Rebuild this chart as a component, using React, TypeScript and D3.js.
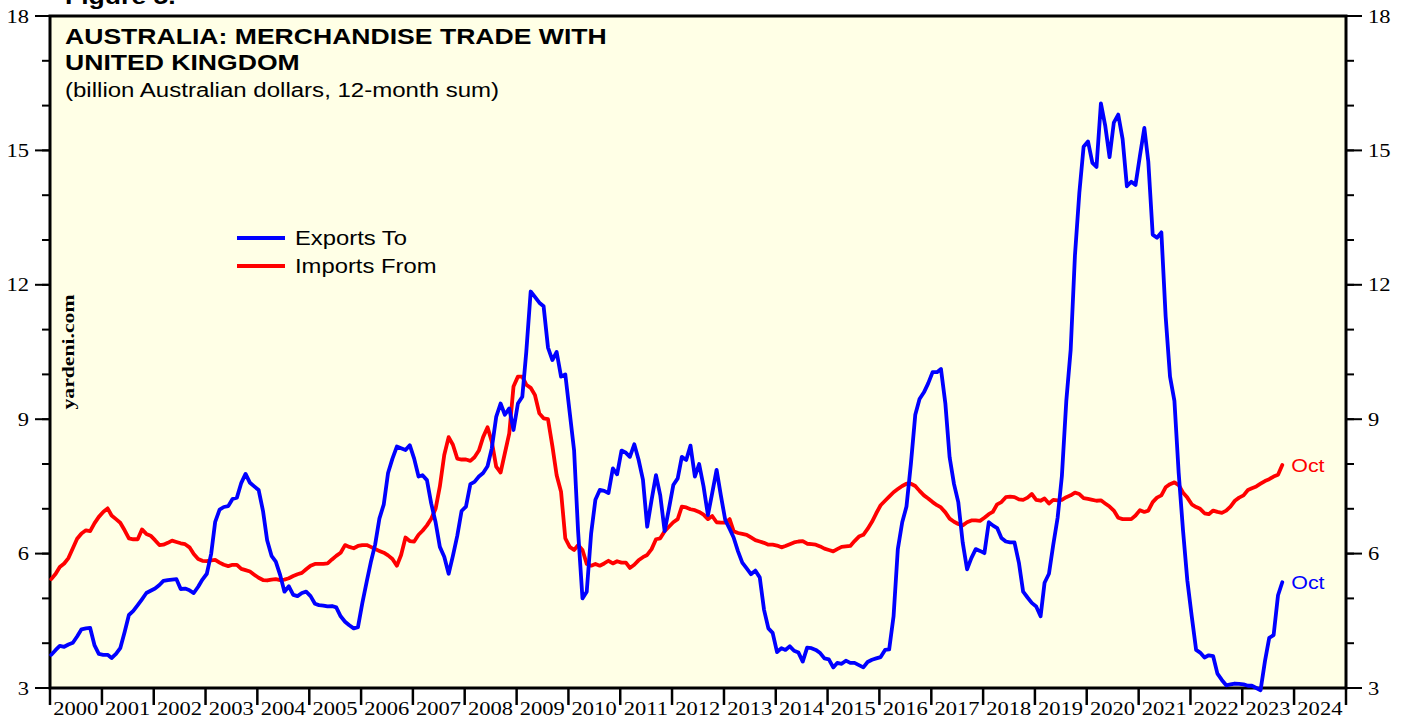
import React from 'react';
import * as d3 from 'd3';

// monthly, 12-month sum, billion A$, Jan 2000 .. Oct 2023
const startYear = 2000;

const exportsTo = [
  3.74, 3.85, 3.94, 3.92, 3.97, 4.01, 4.15, 4.31, 4.33, 4.34, 3.95, 3.76, // 2000
  3.74, 3.74, 3.67, 3.76, 3.89, 4.25, 4.63, 4.72, 4.85, 4.98, 5.12, 5.17, // 2001
  5.22, 5.3, 5.39, 5.41, 5.42, 5.43, 5.21, 5.22, 5.18, 5.12, 5.26, 5.42, // 2002
  5.55, 6.0, 6.71, 6.98, 7.04, 7.06, 7.22, 7.25, 7.58, 7.78, 7.58, 7.5, // 2003
  7.42, 6.95, 6.3, 5.95, 5.82, 5.52, 5.15, 5.27, 5.08, 5.05, 5.12, 5.15, // 2004
  5.05, 4.88, 4.85, 4.84, 4.82, 4.83, 4.8, 4.6, 4.48, 4.4, 4.33, 4.36, // 2005
  4.9, 5.38, 5.8, 6.2, 6.78, 7.1, 7.8, 8.12, 8.39, 8.35, 8.31, 8.42, // 2006
  8.12, 7.72, 7.75, 7.64, 7.12, 6.7, 6.15, 5.93, 5.55, 5.95, 6.4, 6.95, // 2007
  7.05, 7.55, 7.6, 7.72, 7.8, 7.95, 8.35, 9.05, 9.35, 9.1, 9.24, 8.76, // 2008
  9.35, 9.5, 10.5, 11.85, 11.73, 11.6, 11.52, 10.6, 10.32, 10.5, 9.95, 10.0, // 2009
  9.15, 8.3, 6.5, 5.0, 5.15, 6.45, 7.2, 7.42, 7.4, 7.35, 7.9, 7.77, // 2010
  8.3, 8.25, 8.16, 8.44, 8.1, 7.65, 6.6, 7.2, 7.75, 7.3, 6.5, 7.0, // 2011
  7.53, 7.68, 8.16, 8.09, 8.41, 7.72, 8.0, 7.5, 6.86, 7.35, 7.87, 7.3, // 2012
  6.75, 6.55, 6.36, 6.05, 5.8, 5.67, 5.54, 5.62, 5.47, 4.75, 4.33, 4.23, // 2013
  3.8, 3.89, 3.85, 3.93, 3.83, 3.79, 3.59, 3.9, 3.89, 3.85, 3.78, 3.66, // 2014
  3.64, 3.46, 3.56, 3.54, 3.61, 3.56, 3.56, 3.51, 3.46, 3.58, 3.63, 3.66, // 2015
  3.69, 3.85, 3.86, 4.6, 6.1, 6.7, 7.05, 8.0, 9.1, 9.45, 9.6, 9.8, // 2016
  10.05, 10.05, 10.12, 9.35, 8.15, 7.55, 7.15, 6.25, 5.65, 5.9, 6.1, 6.06, // 2017
  6.01, 6.7, 6.63, 6.57, 6.35, 6.27, 6.25, 6.25, 5.8, 5.15, 5.02, 4.9, // 2018
  4.82, 4.6, 5.35, 5.55, 6.19, 6.8, 7.73, 9.4, 10.55, 12.65, 14.05, 15.08, // 2019
  15.2, 14.72, 14.63, 16.05, 15.56, 14.85, 15.62, 15.8, 15.25, 14.2, 14.3, 14.23, // 2020
  14.88, 15.5, 14.75, 13.12, 13.05, 13.17, 11.3, 9.95, 9.41, 7.8, 6.5, 5.4, // 2021
  4.6, 3.85, 3.79, 3.68, 3.73, 3.71, 3.32, 3.18, 3.06, 3.08, 3.1, 3.09, // 2022
  3.08, 3.05, 3.05, 3.0, 2.95, 3.6, 4.12, 4.18, 5.07, 5.36, // 2023
];

const importsFrom = [
  5.43, 5.55, 5.7, 5.78, 5.9, 6.12, 6.33, 6.45, 6.52, 6.5, 6.68, 6.82, // 2000
  6.93, 7.01, 6.85, 6.77, 6.69, 6.52, 6.34, 6.32, 6.32, 6.54, 6.44, 6.4, // 2001
  6.3, 6.19, 6.2, 6.24, 6.29, 6.26, 6.23, 6.21, 6.14, 5.99, 5.88, 5.84, // 2002
  5.83, 5.85, 5.86, 5.8, 5.75, 5.72, 5.75, 5.75, 5.66, 5.63, 5.6, 5.53, // 2003
  5.46, 5.41, 5.4, 5.42, 5.43, 5.41, 5.42, 5.45, 5.5, 5.54, 5.57, 5.65, // 2004
  5.73, 5.77, 5.77, 5.77, 5.78, 5.87, 5.95, 6.02, 6.19, 6.15, 6.12, 6.17, // 2005
  6.19, 6.19, 6.15, 6.1, 6.06, 6.02, 5.96, 5.88, 5.73, 5.97, 6.36, 6.28, // 2006
  6.27, 6.42, 6.51, 6.63, 6.78, 7.0, 7.5, 8.2, 8.6, 8.43, 8.12, 8.1, // 2007
  8.1, 8.07, 8.15, 8.3, 8.6, 8.82, 8.5, 7.94, 7.81, 8.24, 8.68, 9.73, // 2008
  9.95, 9.95, 9.77, 9.7, 9.54, 9.13, 9.02, 9.0, 8.4, 7.75, 7.38, 6.34, // 2009
  6.15, 6.08, 6.19, 6.08, 5.77, 5.73, 5.77, 5.73, 5.78, 5.84, 5.78, 5.83, // 2010
  5.8, 5.8, 5.68, 5.75, 5.85, 5.92, 5.97, 6.1, 6.32, 6.34, 6.5, 6.6, // 2011
  6.7, 6.77, 7.05, 7.03, 6.99, 6.97, 6.93, 6.87, 6.77, 6.84, 6.7, 6.69, // 2012
  6.69, 6.77, 6.5, 6.46, 6.44, 6.42, 6.36, 6.3, 6.27, 6.24, 6.2, 6.2, // 2013
  6.18, 6.14, 6.17, 6.21, 6.25, 6.27, 6.28, 6.22, 6.21, 6.2, 6.16, 6.11, // 2014
  6.08, 6.05, 6.1, 6.15, 6.16, 6.17, 6.28, 6.38, 6.42, 6.55, 6.71, 6.9, // 2015
  7.08, 7.18, 7.27, 7.37, 7.44, 7.51, 7.56, 7.56, 7.51, 7.4, 7.3, 7.23, // 2016
  7.15, 7.08, 7.03, 6.92, 6.78, 6.71, 6.66, 6.63, 6.7, 6.74, 6.74, 6.73, // 2017
  6.8, 6.88, 6.93, 7.1, 7.15, 7.26, 7.27, 7.26, 7.21, 7.2, 7.25, 7.33, // 2018
  7.2, 7.18, 7.23, 7.12, 7.2, 7.19, 7.2, 7.26, 7.3, 7.36, 7.33, 7.24, // 2019
  7.22, 7.2, 7.18, 7.19, 7.12, 7.05, 6.96, 6.8, 6.77, 6.77, 6.77, 6.85, // 2020
  6.97, 6.93, 6.96, 7.15, 7.25, 7.3, 7.48, 7.55, 7.59, 7.53, 7.36, 7.25, // 2021
  7.1, 7.04, 7.0, 6.9, 6.88, 6.96, 6.93, 6.91, 6.96, 7.05, 7.18, 7.25, // 2022
  7.3, 7.42, 7.46, 7.5, 7.56, 7.62, 7.66, 7.72, 7.76, 7.98, // 2023
];

const yMajorTicks = [3, 6, 9, 12, 15, 18];
const yMinorTicks = d3.range(3, 19, 1);
const years = d3.range(2000, 2025);

const W = 1405;
const H = 719;
const left = 50, right = 1346, top = 16, bottom = 688;
const SX = 1.156; // the picture is a bit wider than tall

const sans = 'Arial, "Liberation Sans", sans-serif';
const serif = '"Times New Roman", "Liberation Serif", serif';

// horizontally stretched text
const T = ({ x, y, size, family = sans, weight = 'normal', anchor = 'start', fill = '#000', children }) => (
  <text
    transform={`translate(${x},${y}) scale(${SX},1)`}
    fontFamily={family}
    fontSize={size}
    fontWeight={weight}
    textAnchor={anchor}
    fill={fill}
  >
    {children}
  </text>
);

export default function App() {
  const x = d3.scaleTime()
    .domain([new Date(2000, 0, 1), new Date(2025, 0, 1)])
    .range([left, right]);
  const y = d3.scaleLinear().domain([3, 18]).range([bottom, top]);

  const dateOf = (i) => new Date(startYear, i, 10);
  const line = d3.line()
    .x((d, i) => x(dateOf(i)))
    .y((d) => y(d));

  const lastEx = exportsTo.length - 1;
  const lastIm = importsFrom.length - 1;

  return (
    <svg width={W} height={H} style={{ position: 'absolute', left: 0, top: 0, display: 'block' }}>
      <rect x={0} y={0} width={W} height={H} fill="#fff" />
      <T x={65} y={4} size={23} weight="bold">Figure 5.</T>

      {/* plot background */}
      <rect x={left} y={top} width={right - left} height={bottom - top} fill="#FFFFE6" />

      {/* left / right ticks */}
      {yMinorTicks.map((v) => (
        <g key={'m' + v} stroke="#000" strokeWidth={2}>
          <line x1={left - 8} x2={left} y1={y(v)} y2={y(v)} />
          <line x1={right} x2={right + 8} y1={y(v)} y2={y(v)} />
        </g>
      ))}
      {yMajorTicks.map((v) => (
        <g key={'M' + v}>
          <line x1={left - 15} x2={left} y1={y(v)} y2={y(v)} stroke="#000" strokeWidth={2} />
          <line x1={right} x2={right + 16} y1={y(v)} y2={y(v)} stroke="#000" strokeWidth={2} />
          <T x={29} y={y(v) + 6.5} size={19.5} family={serif} anchor="end">{v}</T>
          <T x={1368} y={y(v) + 6.5} size={19.5} family={serif}>{v}</T>
        </g>
      ))}

      {/* year ticks and labels */}
      {years.concat([2025]).map((yr) => (
        <line key={'t' + yr} x1={x(new Date(yr, 0, 1))} x2={x(new Date(yr, 0, 1))}
          y1={bottom} y2={bottom + 17} stroke="#000" strokeWidth={2.5} />
      ))}
      {years.map((yr) => (
        <T key={'l' + yr} x={x(new Date(yr, 6, 1))} y={715} size={19.5} family={serif} anchor="middle">{yr}</T>
      ))}

      {/* frame */}
      <rect x={left} y={top} width={right - left} height={bottom - top} fill="none" stroke="#000" strokeWidth={3} />

      {/* series */}
      <path d={line(importsFrom)} fill="none" stroke="#FF0000" strokeWidth={3.8} strokeLinejoin="round" strokeLinecap="round" />
      <path d={line(exportsTo)} fill="none" stroke="#0000FF" strokeWidth={3.8} strokeLinejoin="round" strokeLinecap="round" />

      <T x={x(dateOf(lastIm)) + 9} y={y(importsFrom[lastIm]) + 7} size={18.5} fill="#FF0000">Oct</T>
      <T x={x(dateOf(lastEx)) + 9} y={y(exportsTo[lastEx]) + 7} size={18.5} fill="#0000FF">Oct</T>

      {/* titles */}
      <T x={65} y={43.5} size={23} weight="bold">AUSTRALIA: MERCHANDISE TRADE WITH</T>
      <T x={65} y={70} size={23} weight="bold">UNITED KINGDOM</T>
      <T x={65} y={97} size={20.8}>(billion Australian dollars, 12-month sum)</T>

      {/* legend */}
      <line x1={237} x2={285} y1={238} y2={238} stroke="#0000FF" strokeWidth={3.8} />
      <T x={295} y={245} size={20.6}>Exports To</T>
      <line x1={237} x2={285} y1={266} y2={266} stroke="#FF0000" strokeWidth={3.8} />
      <T x={295} y={273} size={20.6}>Imports From</T>

      <text
        transform="translate(74,352) rotate(-90)"
        fontFamily={serif}
        fontSize={17.5}
        fontWeight="bold"
        textAnchor="middle"
        textLength={115}
        lengthAdjust="spacingAndGlyphs"
      >
        yardeni.com
      </text>
    </svg>
  );
}
